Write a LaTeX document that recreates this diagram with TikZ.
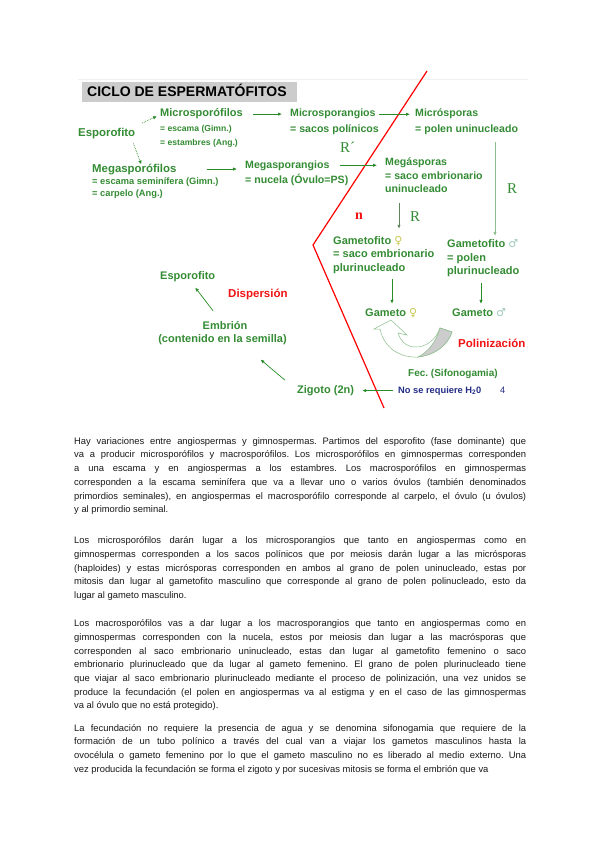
\documentclass[tikz,border=0pt]{standalone}
\usepackage{fontspec}
\setmainfont{Liberation Sans}
\newfontfamily\serifR{Liberation Serif}
\newfontfamily\symf{DejaVu Sans}
\usetikzlibrary{arrows.meta,calc}
\definecolor{gtxt}{RGB}{52,140,52}
\definecolor{garr}{RGB}{40,140,40}
\definecolor{glight}{RGB}{140,190,140}
\definecolor{rtxt}{RGB}{240,20,20}
\definecolor{navy}{RGB}{35,45,135}
\definecolor{tgray}{RGB}{204,204,204}
\definecolor{bodyc}{RGB}{25,25,25}
\definecolor{fem}{RGB}{200,200,80}
\definecolor{mas}{RGB}{160,200,185}
\frenchspacing
\begin{document}
\begin{tikzpicture}[x=1pt,y=-1pt,
  lbl/.style={inner sep=0pt, anchor=base west, text=gtxt, font=\fontsize{11}{13}\selectfont\bfseries},
  sublbl/.style={lbl, font=\fontsize{8.6}{11}\selectfont\bfseries},
  redlbl/.style={lbl, text=rtxt, font=\fontsize{11.5}{13}\selectfont\bfseries},
  rlbl/.style={lbl, font=\fontsize{15}{17}\serifR},
  para/.style={inner sep=0pt, anchor=north west, text width=452pt, align=justify, text=bodyc,
     font=\fontsize{9.4}{13.7}\selectfont},
  arr/.style={draw=garr, line width=0.7pt, -{Latex[length=4pt,width=3.4pt]}},
  darr/.style={arr, densely dotted},
  larr/.style={arr, draw=glight},
]
\useasboundingbox (0,0) rectangle (600,848);
\fill[white] (0,0) rectangle (600,848);
\draw[gray!12, line width=0.6pt] (78,79) -- (528,79);

% title
\fill[tgray] (82,82) rectangle (297,102);
\node[inner sep=0pt, anchor=base west, font=\fontsize{14}{16}\selectfont\bfseries] (title) at (87,97) {CICLO DE ESPERMATÓFITOS};

% red boundary
\draw[red, line width=1.2pt] (427,71) -- (313,245) -- (384,408);

% upper labels
\node[lbl, font=\fontsize{11.4}{13}\selectfont\bfseries] (esp1) at (78,136) {Esporofito};
\node[lbl] (microf) at (160,117) {Microsporófilos};
\node[sublbl] (escG) at (160,131.5) {= escama (Gimn.)};
\node[sublbl] (estA) at (160,145.5) {= estambres (Ang.)};
\node[lbl, font=\fontsize{11.4}{13}\selectfont\bfseries] (megaf) at (92,172) {Megasporófilos};
\node[sublbl, font=\fontsize{9.3}{11}\selectfont\bfseries] (esemG) at (92,184.5) {= escama seminífera (Gimn.)};
\node[sublbl, font=\fontsize{9.3}{11}\selectfont\bfseries] (carpA) at (92,196.5) {= carpelo (Ang.)};
\node[lbl, font=\fontsize{10.6}{13}\selectfont\bfseries] (megag) at (245,168) {Megasporangios};
\node[lbl, font=\fontsize{10.6}{13}\selectfont\bfseries] (nucela) at (245,183) {= nucela (Óvulo=PS)};
\node[lbl, font=\fontsize{10.6}{13}\selectfont\bfseries] (microg) at (290,117) {Microsporangios};
\node[lbl, font=\fontsize{10.6}{13}\selectfont\bfseries] (sacosp) at (290,132) {= sacos polínicos};
\node[lbl, font=\fontsize{10.6}{13}\selectfont\bfseries] (micros) at (415,117) {Micrósporas};
\node[lbl, font=\fontsize{10.6}{13}\selectfont\bfseries] (poluni) at (415,132) {= polen uninucleado};
\node[rlbl] (Rp) at (340,152) {R´};
\node[lbl, font=\fontsize{10.6}{13}\selectfont\bfseries] (megas) at (385,165) {Megásporas};
\node[lbl, font=\fontsize{10.6}{13}\selectfont\bfseries] (sacoemb) at (385,179) {= saco embrionario};
\node[lbl, font=\fontsize{10.6}{13}\selectfont\bfseries] (uninuc) at (385,192.5) {uninucleado};
\node[rlbl] (Rr) at (507,193) {R};
\node[rlbl] (Rm) at (410,221) {R};
\node[lbl, text=rtxt, font=\fontsize{14}{16}\serifR\bfseries] (nn) at (355,219) {n};

% gametophytes
\node[lbl] (gfF) at (333,244) {Gametofito {\symf\mdseries\color{fem}♀}};
\node[lbl] (gfF2) at (333,257.5) {= saco embrionario};
\node[lbl] (gfF3) at (333,271) {plurinucleado};
\node[lbl] (gfM) at (447,247) {Gametofito {\symf\mdseries\color{mas}♂}};
\node[lbl] (gfM2) at (447,261) {= polen};
\node[lbl] (gfM3) at (447,274.5) {plurinucleado};
\node[lbl] (gF) at (365,316) {Gameto {\symf\mdseries\color{fem}♀}};
\node[lbl] (gM) at (452,316) {Gameto {\symf\mdseries\color{mas}♂}};

% lower part
\node[redlbl] (polin) at (458,347) {Polinización};
\node[lbl, font=\fontsize{10}{12}\selectfont\bfseries] (fec) at (408,376) {Fec. (Sifonogamia)};
\node[lbl, text=navy, font=\fontsize{9.3}{11}\selectfont\bfseries] (noH) at (398,393) {No se requiere H\textsubscript{2}0};
\node[lbl, text=navy, font=\fontsize{9.3}{11}\selectfont] (four) at (500,393) {4};
\node[lbl] (zig) at (297,393) {Zigoto (2n)};
\node[lbl, anchor=base] (emb) at (225,329) {Embrión};
\node[lbl, anchor=base] (cont) at (222.5,342) {(contenido en la semilla)};
\node[lbl] (esp2) at (160,279) {Esporofito};
\node[redlbl] (disp) at (228,297) {Dispersión};

% connectors
\draw[darr] ($(esp1.east)+(7,-10)$) -- ($(microf.west)+(-3,2)$);
\draw[darr] ($(esp1.south east)+(-2,5)$) -- ($(megaf.north)+(7,1)$);
\draw[arr, shorten <=10pt, shorten >=8pt] (microf.east) -- (microf.east -| microg.west);
\draw[arr, shorten <=30pt, shorten >=8pt] (megaf.east) -- (megaf.east -| megag.west);
\draw[arr, shorten <=3pt, shorten >=5pt] (microg.east) -- (microg.east -| micros.west);
\draw[arr, shorten <=10pt, shorten >=8pt] (megag.east) -- (megag.east -| megas.west);
\draw[larr] ($(poluni.south west)+(80,8)$) -- ($(gfM.north west)+(48,-3)$);
\draw[arr, draw=gray!60!garr] ($(uninuc.south west)+(14,10)$) -- ($(gfF.north west)+(66,-7)$);
\draw[arr] ($(gfF3.south west)+(59,6)$) -- ($(gF.north west)+(27,-4)$);
\draw[arr] ($(gfM3.south west)+(34,6)$) -- ($(gM.north west)+(29,-4)$);
\draw[arr, shorten <=5pt, shorten >=8pt] (noH.west) -- (noH.west -| zig.east);
\draw[arr] ($(zig.west)+(-12,-10)$) -- ($(cont.south)+(38,15)$);
\draw[arr] ($(emb.north)+(-12,-10)$) -- ($(esp2.south)+(7.5,6)$);

% pollination curved arrow
\filldraw[fill=white, draw=glight, line width=0.5pt]
  (380,329) .. controls (384,348) and (400,358) .. (418,357)
  .. controls (435,355) and (448,345) .. (452,332) -- (440,328)
  .. controls (436,340) and (425,348) .. (414,347)
  .. controls (405,346) and (400,340) .. (398,333)
  -- (407,335) -- (391,320) -- (374,329) -- cycle;
\filldraw[fill=gray!40, draw=glight, line width=0.5pt]
  (418,357) .. controls (435,355) and (448,345) .. (452,332) -- (440,328)
  .. controls (436,342) and (428,352) .. (418,357) -- cycle;

% body text
\node[para] (p1) at (74,434.5) {\strut Hay variaciones entre angiospermas y gimnospermas. Partimos del esporofito (fase dominante) que\linebreak va a producir microsporófilos y macrosporófilos. Los microsporófilos en gimnospermas corresponden\linebreak a una escama y en angiospermas a los estambres. Los macrosporófilos en gimnospermas\linebreak corresponden a la escama seminífera que va a llevar uno o varios óvulos (también denominados\linebreak primordios seminales), en angiospermas el macrosporófilo corresponde al carpelo, el óvulo (u óvulos)\linebreak y al primordio seminal.};
\node[para] (p2) at (74,534) {\strut Los microsporófilos darán lugar a los microsporangios que tanto en angiospermas como en\linebreak gimnospermas corresponden a los sacos polínicos que por meiosis darán lugar a las micrósporas\linebreak (haploides) y estas micrósporas corresponden en ambos al grano de polen uninucleado, estas por\linebreak mitosis dan lugar al gametofito masculino que corresponde al grano de polen polinucleado, esto da\linebreak lugar al gameto masculino.};
\node[para] (p3) at (74,617) {\strut Los macrosporófilos vas a dar lugar a los macrosporangios que tanto en angiospermas como en\linebreak gimnospermas corresponden con la nucela, estos por meiosis dan lugar a las macrósporas que\linebreak corresponden al saco embrionario uninucleado, estas dan lugar al gametofito femenino o saco\linebreak embrionario plurinucleado que da lugar al gameto femenino. El grano de polen plurinucleado tiene\linebreak que viajar al saco embrionario plurinucleado mediante el proceso de polinización, una vez unidos se\linebreak produce la fecundación (el polen en angiospermas va al estigma y en el caso de las gimnospermas\linebreak va al óvulo que no está protegido).};
\node[para] (p4) at (74,721.5) {\parfillskip=0pt\strut La fecundación no requiere la presencia de agua y se denomina sifonogamia que requiere de la\linebreak formación de un tubo polínico a través del cual van a viajar los gametos masculinos hasta la\linebreak ovocélula o gameto femenino por lo que el gameto masculino no es liberado al medio externo. Una\linebreak vez producida la fecundación se forma el zigoto y por sucesivas mitosis se forma el embrión que va};
\end{tikzpicture}
\end{document}
